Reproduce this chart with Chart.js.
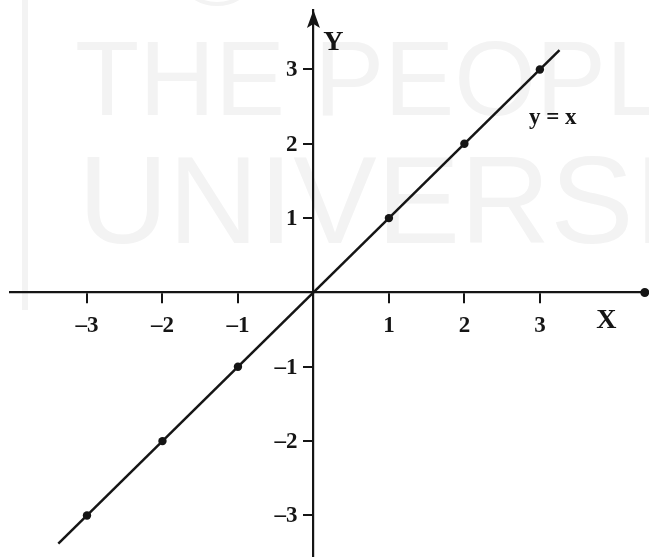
<!DOCTYPE html>
<html>
<head>
<meta charset="utf-8">
<script src="https://cdn.jsdelivr.net/npm/chart.js@4/dist/chart.umd.min.js"></script>
<style>
  html, body { margin: 0; padding: 0; background: #fff; }
  canvas { display: block; }
</style>
</head>
<body>
<canvas id="graph" width="649" height="560"></canvas>
<script>
// The straight line y = x, drawn between its two ends
const lineX = [-3.38, 3.26];
const lineY = [-3.38, 3.26];
// Marked points on the line
const pointX = [-3, -2, -1, 1, 2, 3];
const pointY = [-3, -2, -1, 1, 2, 3];
// Tick values on each axis
const xTickValues = [-3, -2, -1, 1, 2, 3];
const yTickValues = [-3, -2, -1, 1, 2, 3];
// Texts
const axisNames = { x: 'X', y: 'Y' };
const lineLabel = 'y = x';
const watermarkLines = ["THE PEOPLE'S", 'UNIVERSITY'];

const INK = '#151515';
const SERIF = '"Liberation Serif", "Times New Roman", serif';
const TICK_FONT = { family: SERIF, size: 23, weight: 'bold' };

const fmt = v => (v < 0 ? '\u2013' + Math.abs(v) : String(v));

const noPadding = s => {
  s.paddingLeft = 0; s.paddingRight = 0; s.paddingTop = 0; s.paddingBottom = 0;
};

const decorations = {
  id: 'decorations',
  beforeDraw(chart) {
    const ctx = chart.ctx;
    ctx.save();
    ctx.fillStyle = '#ffffff';
    ctx.fillRect(0, 0, chart.width, chart.height);
    // faint background lettering
    ctx.fillStyle = '#f3f3f3';
    ctx.textBaseline = 'alphabetic';
    ctx.textAlign = 'left';
    ctx.font = '105px "Liberation Sans", Arial, sans-serif';
    ctx.fillText(watermarkLines[0], 75, 115);
    ctx.font = '125px "Liberation Sans", Arial, sans-serif';
    ctx.fillText(watermarkLines[1], 78, 243);
    ctx.fillRect(22, 0, 6, 310);
    ctx.strokeStyle = '#f3f3f3';
    ctx.lineWidth = 4;
    ctx.beginPath();
    ctx.arc(217, -38, 42, 0, Math.PI);
    ctx.stroke();
    ctx.restore();
  },
  afterDraw(chart) {
    const { ctx, scales: { x, y } } = chart;
    const x0 = x.getPixelForValue(0);
    const y0 = y.getPixelForValue(0);
    ctx.save();
    ctx.fillStyle = INK;
    // arrowhead at the top of the Y axis
    ctx.beginPath();
    ctx.moveTo(x0, y.top);
    ctx.lineTo(x0 + 6.5, y.top + 18);
    ctx.lineTo(x0, y.top + 14);
    ctx.lineTo(x0 - 6.5, y.top + 18);
    ctx.closePath();
    ctx.fill();
    // dot at the right end of the X axis
    ctx.beginPath();
    ctx.arc(x.right, y0, 4.5, 0, Math.PI * 2);
    ctx.fill();
    // Y tick labels, to the left of the tick marks
    ctx.font = `${TICK_FONT.weight} ${TICK_FONT.size}px ${SERIF}`;
    ctx.textAlign = 'right';
    ctx.textBaseline = 'middle';
    y.ticks.forEach(t => {
      ctx.fillText(fmt(t.value), x0 - 16, y.getPixelForValue(t.value) + 1);
    });
    // axis names
    ctx.textAlign = 'center';
    ctx.font = 'bold 28px ' + SERIF;
    ctx.fillText(axisNames.y, x0 + 20, y.getPixelForValue(3.36));
    ctx.fillText(axisNames.x, x.getPixelForValue(3.88), y0 + 28);
    // line label
    ctx.font = 'bold 23px ' + SERIF;
    ctx.fillText(lineLabel, x.getPixelForValue(3.17), y.getPixelForValue(2.34));
    ctx.restore();
  }
};

new Chart(document.getElementById('graph'), {
  type: 'scatter',
  data: {
    datasets: [
      {
        data: lineX.map((v, i) => ({ x: v, y: lineY[i] })),
        showLine: true,
        borderColor: INK,
        borderWidth: 2.5,
        pointRadius: 0,
        fill: false
      },
      {
        data: pointX.map((v, i) => ({ x: v, y: pointY[i] })),
        showLine: false,
        pointRadius: 4.2,
        pointBackgroundColor: INK,
        pointBorderColor: INK,
        pointBorderWidth: 0
      }
    ]
  },
  options: {
    responsive: false,
    animation: false,
    events: [],
    layout: { padding: { left: 10, right: 4, top: 10, bottom: 0 } },
    plugins: { legend: { display: false }, tooltip: { enabled: false } },
    scales: {
      x: {
        type: 'linear',
        min: -4.02,
        max: 4.39,
        position: { y: 0 },
        afterBuildTicks: s => { s.ticks = xTickValues.map(v => ({ value: v })); },
        afterFit: noPadding,
        border: { display: true, color: INK, width: 2.2 },
        grid: { drawOnChartArea: false, drawTicks: true, tickLength: 10, color: INK, lineWidth: 2 },
        ticks: {
          autoSkip: false, maxRotation: 0, padding: 10, color: INK,
          font: TICK_FONT,
          callback: v => fmt(v)
        }
      },
      y: {
        type: 'linear',
        min: -3.543,
        max: 3.80,
        position: { x: 0 },
        afterBuildTicks: s => { s.ticks = yTickValues.map(v => ({ value: v })); },
        afterFit: noPadding,
        border: { display: true, color: INK, width: 2.2 },
        grid: { drawOnChartArea: false, drawTicks: true, tickLength: 9, color: INK, lineWidth: 2 },
        ticks: { display: false }
      }
    }
  },
  plugins: [decorations]
});
</script>
</body>
</html>
